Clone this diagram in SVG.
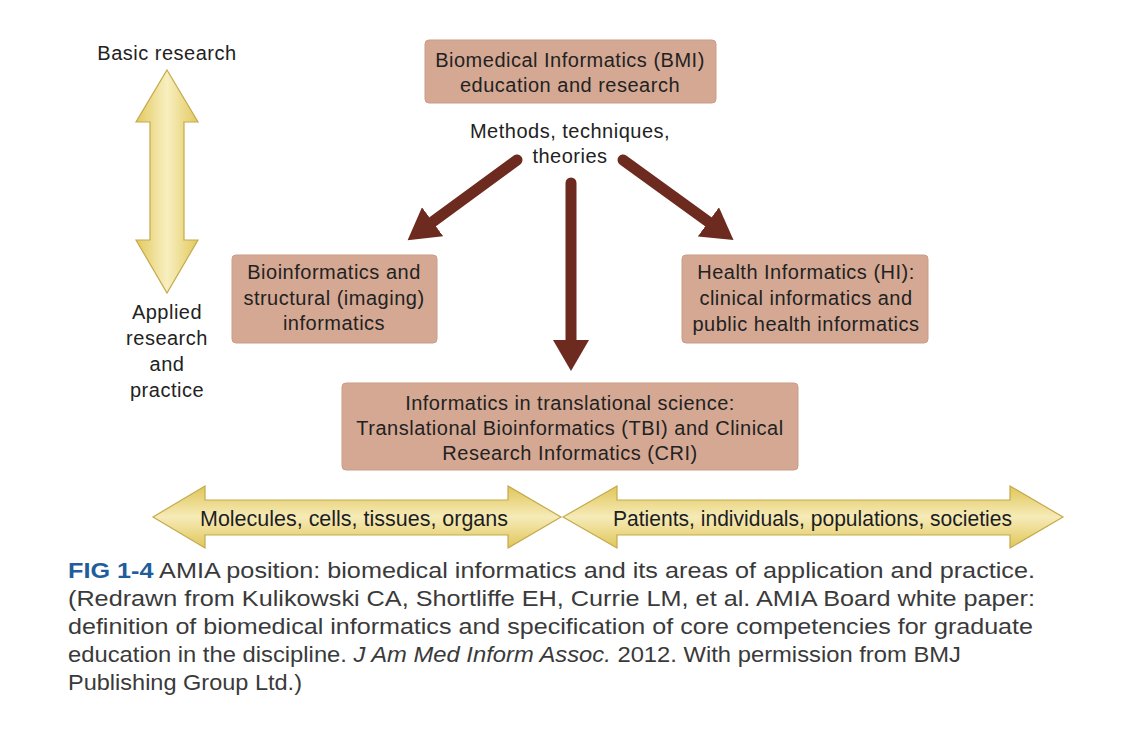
<svg xmlns="http://www.w3.org/2000/svg" width="1123" height="730" viewBox="0 0 1123 730">
<defs>
<style>
.t{font-family:"Liberation Sans",Arial,sans-serif;font-size:20px;fill:#222;letter-spacing:0.5px;text-anchor:middle}
.bt{font-family:"Liberation Sans",Arial,sans-serif;font-size:22px;fill:#1e1e1e;text-anchor:start}
.cap{font-family:"Liberation Sans",Arial,sans-serif;font-size:22.5px;fill:#3a3a3a}
.box{fill:#d5a893;stroke:#c99d88;stroke-width:1}
.dk{stroke:#6d2b1f;stroke-width:11;stroke-linecap:round;fill:none}
.ya{stroke:#c4aa4c;stroke-width:1.2}
</style>
<marker id="ah" markerUnits="userSpaceOnUse" markerWidth="32" markerHeight="36" viewBox="0 0 32 36" refX="2" refY="18" orient="auto">
<path d="M0,0 L31,18 L0,36 z" fill="#6d2b1f"/>
</marker>
<linearGradient id="gv" x1="0" y1="0" x2="1" y2="0">
<stop offset="0" stop-color="#e2c95e"/>
<stop offset="0.5" stop-color="#f8efc0"/>
<stop offset="1" stop-color="#e2c95e"/>
</linearGradient>
<linearGradient id="gh" x1="0" y1="0" x2="0" y2="1">
<stop offset="0" stop-color="#e0c65a"/>
<stop offset="0.5" stop-color="#f6ebb8"/>
<stop offset="1" stop-color="#e0c65a"/>
</linearGradient>
</defs>
<rect width="1123" height="730" fill="#ffffff"/>

<g id="scale-vertical">
<polygon class="ya" fill="url(#gv)" points="167,70 198,122 184,122 184,240 198,240 167,293 136,240 150,240 150,122 136,122"/>
<text class="t" x="167" y="60">Basic research</text>
<text class="t" x="167" y="319">Applied</text>
<text class="t" x="167" y="345">research</text>
<text class="t" x="167" y="371">and</text>
<text class="t" x="167" y="397">practice</text>
</g>

<g id="bmi">
<rect class="box" x="425" y="40" width="291" height="63" rx="4"/>
<text class="t" x="570" y="67">Biomedical Informatics (BMI)</text>
<text class="t" x="570" y="92">education and research</text>
</g>

<g id="methods">
<text class="t" x="570" y="138">Methods, techniques,</text>
<text class="t" x="570" y="163">theories</text>
</g>

<g id="bioinformatics">
<rect class="box" x="232" y="255" width="205" height="88" rx="4"/>
<text class="t" x="334" y="279">Bioinformatics and</text>
<text class="t" x="334" y="305">structural (imaging)</text>
<text class="t" x="334" y="330">informatics</text>
</g>

<g id="health">
<rect class="box" x="682" y="255" width="246" height="88" rx="4"/>
<text class="t" x="806" y="279">Health Informatics (HI):</text>
<text class="t" x="806" y="305">clinical informatics and</text>
<text class="t" x="806" y="331">public health informatics</text>
</g>

<g id="translational">
<rect class="box" x="342" y="383" width="456" height="87" rx="4"/>
<text class="t" x="570" y="410">Informatics in translational science:</text>
<text class="t" x="570" y="435">Translational Bioinformatics (TBI) and Clinical</text>
<text class="t" x="570" y="460">Research Informatics (CRI)</text>
</g>

<g id="connectors">
<line class="dk" x1="517" y1="160" x2="431" y2="223" marker-end="url(#ah)"/>
<line class="dk" x1="571" y1="183" x2="571" y2="342" marker-end="url(#ah)"/>
<line class="dk" x1="623" y1="160" x2="710" y2="223" marker-end="url(#ah)"/>
</g>

<g id="scale-molecular">
<polygon class="ya" fill="url(#gh)" points="153,517 205,486 205,500 508,500 508,486 561,517 508,548 508,535 205,535 205,548"/>
<text class="bt" x="200" y="526" textLength="308" lengthAdjust="spacingAndGlyphs">Molecules, cells, tissues, organs</text>
</g>

<g id="scale-population">
<polygon class="ya" fill="url(#gh)" points="563,517 617,486 617,500 1010,500 1010,486 1063,517 1010,548 1010,535 617,535 617,548"/>
<text class="bt" x="613" y="526" textLength="399" lengthAdjust="spacingAndGlyphs">Patients, individuals, populations, societies</text>
</g>

<g id="caption">
<text class="cap" x="68" y="578" textLength="967" lengthAdjust="spacingAndGlyphs"><tspan font-weight="bold" fill="#1f5d9c">FIG 1-4</tspan> AMIA position: biomedical informatics and its areas of application and practice.</text>
<text class="cap" x="68" y="606" textLength="967" lengthAdjust="spacingAndGlyphs">(Redrawn from Kulikowski CA, Shortliffe EH, Currie LM, et al. AMIA Board white paper:</text>
<text class="cap" x="68" y="634" textLength="965" lengthAdjust="spacingAndGlyphs">definition of biomedical informatics and specification of core competencies for graduate</text>
<text class="cap" x="68" y="662" textLength="893" lengthAdjust="spacingAndGlyphs">education in the discipline. <tspan font-style="italic">J Am Med Inform Assoc.</tspan> 2012. With permission from BMJ</text>
<text class="cap" x="68" y="690" textLength="234" lengthAdjust="spacingAndGlyphs">Publishing Group Ltd.)</text>
</g>
</svg>
